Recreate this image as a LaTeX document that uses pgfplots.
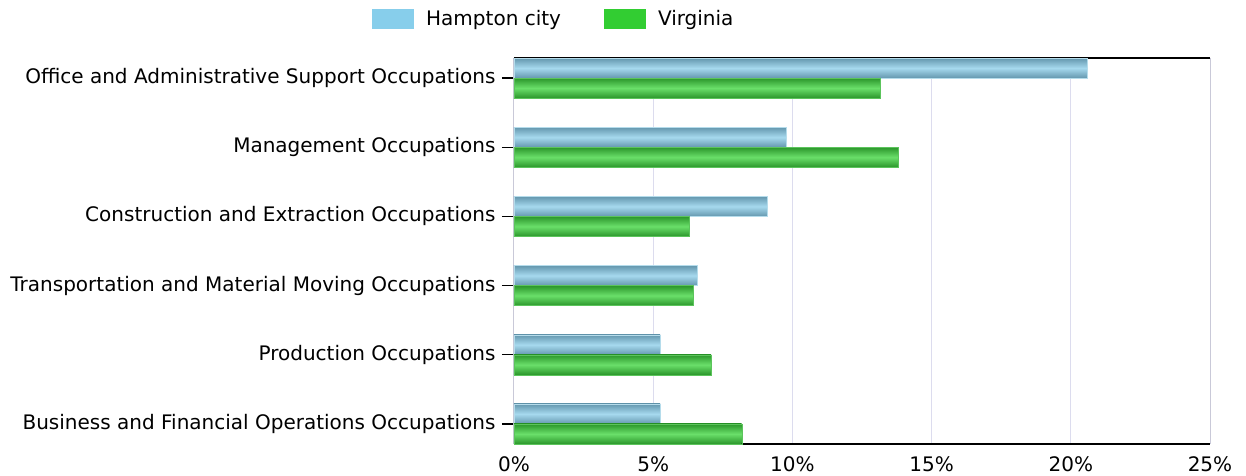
\documentclass[border=0pt]{standalone}
\usepackage{pgfplots}
\pgfplotsset{compat=1.18}
\usepackage{fontspec}
\setmainfont{DejaVu Sans}
\definecolor{hamL}{HTML}{A6D9EE}
\definecolor{hamD}{HTML}{6497AE}
\definecolor{hamE}{HTML}{B5DCEB}
\definecolor{vaL}{HTML}{6ADF6A}
\definecolor{vaD}{HTML}{2B962B}
\definecolor{vaE}{HTML}{5CC45C}
\definecolor{skyb}{HTML}{87CEEB}
\definecolor{limeg}{HTML}{32CD32}
\definecolor{lav}{HTML}{DCDCEE}
\pgfplotstableread{
y ham va
0 20.60 13.17
1 9.79 13.79
2 9.11 6.28
3 6.59 6.42
4 5.25 7.08
5 5.25 8.18
}\datatab
\begin{document}
\begin{tikzpicture}[font=\fontsize{20}{24}\selectfont]
\begin{axis}[
  scale only axis,
  width=696pt, height=386pt,
  xbar, bar width=20pt,
  y dir=reverse,
  xmin=0, xmax=25,
  ymin=-0.29, ymax=5.29,
  xtick={0,5,10,15,20,25},
  xticklabel={\pgfmathprintnumber{\tick}\%},
  ytick={0,1,2,3,4,5},
  yticklabels={Office and Administrative Support Occupations,Management Occupations,Construction and Extraction Occupations,Transportation and Material Moving Occupations,Production Occupations,Business and Financial Operations Occupations},
  /pgf/number format/assume math mode=true,
  separate axis lines,
  x axis line style={black, line width=1.5pt},
  y axis line style={draw=lav!80!gray, line width=1pt},
  xmajorgrids, grid style={lav, line width=1pt},
  xtick style={draw=none},
  ytick style={black, line width=1.3pt},
  ytick pos=left, tick align=outside, major tick length=12pt,
  xticklabel style={yshift=3pt},
  yticklabel style={xshift=-3pt},
  legend columns=2,
  legend image code/.code={\fill[#1] (0pt,-10pt) rectangle (42pt,10pt);},
  legend style={at={(0,1)}, anchor=west, xshift=-142pt, yshift=39pt, draw=none, inner sep=0pt,
    nodes={inner sep=0pt, anchor=west},
    /tikz/every odd column/.append style={column sep=12pt},
    /tikz/every even column/.append style={column sep=43pt}},
]
\coordinate (ll) at (rel axis cs:0,0);
\coordinate (ur) at (rel axis cs:1,1);
\pgfplotsinvokeforeach{0,...,5}{
\addplot[forget plot, bar shift=10pt, draw=hamE, top color=hamD, bottom color=hamD, middle color=hamL, restrict y to domain=#1:#1] table[x=ham, y=y] {\datatab};
\addplot[forget plot, bar shift=-10pt, draw=vaE, top color=vaD, bottom color=vaD, middle color=vaL, restrict y to domain=#1:#1] table[x=va, y=y] {\datatab};
}
\addlegendimage{fill=skyb, draw=none}
\addlegendentry{Hampton city}
\addlegendimage{fill=limeg, draw=none}
\addlegendentry{Virginia}
\end{axis}
\pgfresetboundingbox
\path ([shift={(-514pt,-31pt)}]ll) rectangle ([shift={(36pt,58pt)}]ur);
\end{tikzpicture}
\end{document}
